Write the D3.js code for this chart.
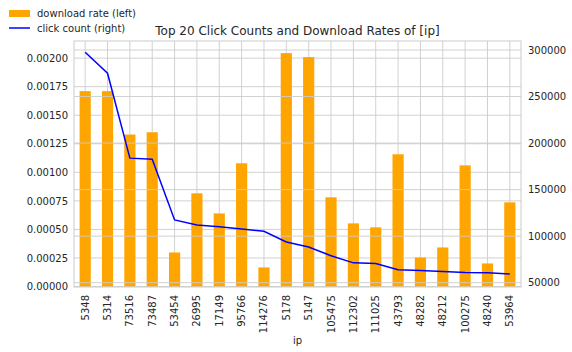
<!DOCTYPE html>
<html>
<head>
<meta charset="utf-8">
<script src="https://cdn.jsdelivr.net/npm/d3@7"></script>
<style>
  body { margin: 0; background: #fff; }
  text { font-family: 'DejaVu Sans', sans-serif; fill: #262626; }
</style>
</head>
<body>
<div id="chart"></div>
<script>
// data
const ips = ['5348', '5314', '73516', '73487', '53454', '26995', '17149', '95766', '114276', '5178',
  '5147', '105475', '112302', '111025', '43793', '48282', '48212', '100275', '48240', '53964'];
const downloadRate = [0.001711, 0.001711, 0.001331, 0.001351, 0.000298, 0.000816, 0.000640, 0.001079, 0.000167, 0.002044,
  0.002009, 0.000781, 0.000553, 0.000518, 0.001158, 0.000254, 0.000342, 0.001061, 0.000202, 0.000737];
const clickCount = [297500, 275000, 183800, 182700, 117400, 112000, 110000, 107800, 105300, 93800,
  88400, 78900, 71300, 70600, 64000, 63200, 62100, 61000, 60700, 59400];
const leftTicks = [0, 0.00025, 0.0005, 0.00075, 0.001, 0.00125, 0.0015, 0.00175, 0.002];
const rightTicks = [50000, 100000, 150000, 200000, 250000, 300000];

const W = 572, H = 352;
const m = {left: 74, right: 51, top: 41, bottom: 65};
const pw = W - m.left - m.right, ph = H - m.top - m.bottom;
const grid = '#cccccc';

let svg = d3.select('#chart').append('svg').attr('width', W).attr('height', H);
let g = svg.append('g').attr('transform', 'translate(' + m.left + ',' + m.top + ')');

let x = d3.scaleBand().domain(ips).range([0, pw]).padding(0);
let yL = d3.scaleLinear().domain([0, 0.00215]).range([ph - 0.5, 0]);
let yR = d3.scaleLinear().domain([45900, 309650]).range([ph - 0.5, 0]);

// left-axis grid (under bars)
g.selectAll('.gl').data(leftTicks).enter().append('line')
  .attr('x1', 0).attr('x2', pw)
  .attr('y1', d => yL(d)).attr('y2', d => yL(d))
  .attr('stroke', grid).attr('stroke-width', 0.9);
g.selectAll('.gx').data(ips).enter().append('line')
  .attr('x1', d => x(d) + x.bandwidth() / 2).attr('x2', d => x(d) + x.bandwidth() / 2)
  .attr('y1', 0).attr('y2', ph)
  .attr('stroke', grid).attr('stroke-width', 0.9);

// bars
g.selectAll('.bar').data(downloadRate).enter().append('rect')
  .attr('x', (d, i) => x(ips[i]) + x.bandwidth() * 0.25)
  .attr('width', x.bandwidth() * 0.5)
  .attr('y', d => yL(d))
  .attr('height', d => yL(0) - yL(d))
  .attr('fill', '#ffa500');

// right-axis grid (over bars)
g.selectAll('.gr').data(rightTicks).enter().append('line')
  .attr('x1', 0).attr('x2', pw)
  .attr('y1', d => yR(d)).attr('y2', d => yR(d))
  .attr('stroke', grid).attr('stroke-width', 0.9);

// click count line
let line = d3.line()
  .x((d, i) => x(ips[i]) + x.bandwidth() / 2)
  .y(d => yR(d));
g.append('path').datum(clickCount)
  .attr('d', line)
  .attr('fill', 'none')
  .attr('stroke', '#0000ff')
  .attr('stroke-width', 1.5);

// frame
g.append('rect').attr('width', pw).attr('height', ph)
  .attr('fill', 'none').attr('stroke', grid).attr('stroke-width', 1);

// axes
let axL = g.append('g').call(d3.axisLeft(yL).tickValues(leftTicks).tickSize(0).tickPadding(6).tickFormat(d3.format('.5f')));
let axR = g.append('g').attr('transform', 'translate(' + pw + ',0)')
  .call(d3.axisRight(yR).tickValues(rightTicks).tickSize(0).tickPadding(7).tickFormat(d3.format('d')));
let axB = g.append('g').attr('transform', 'translate(0,' + ph + ')')
  .call(d3.axisBottom(x).tickSize(0));
[axL, axR, axB].forEach(a => {
  a.select('.domain').remove();
  a.selectAll('text').attr('font-size', 10).attr('fill', '#262626');
});
axB.selectAll('text')
  .attr('transform', 'rotate(-90)')
  .attr('text-anchor', 'end')
  .attr('x', -8).attr('y', 0).attr('dy', '0.35em');

// labels
svg.append('text').attr('x', m.left + pw / 2).attr('y', 35)
  .attr('text-anchor', 'middle').attr('font-size', 12)
  .text('Top 20 Click Counts and Download Rates of [ip]');
svg.append('text').attr('x', m.left + pw / 2).attr('y', 344)
  .attr('text-anchor', 'middle').attr('font-size', 10)
  .text('ip');

// legend
svg.append('rect').attr('x', 9).attr('y', 10).attr('width', 21).attr('height', 7).attr('fill', '#ffa500');
svg.append('text').attr('x', 37).attr('y', 17).attr('font-size', 10).text('download rate (left)');
svg.append('line').attr('x1', 9).attr('x2', 30).attr('y1', 28).attr('y2', 28)
  .attr('stroke', '#0000ff').attr('stroke-width', 1.5);
svg.append('text').attr('x', 37).attr('y', 32).attr('font-size', 10).text('click count (right)');
</script>
</body>
</html>
